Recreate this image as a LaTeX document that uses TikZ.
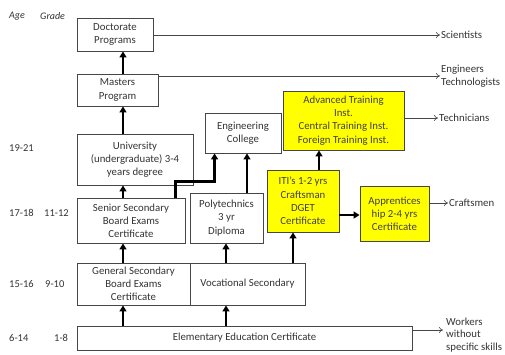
\documentclass[tikz,border=0pt]{standalone}
\usepackage{fontspec}
\setmainfont{Carlito}
\usetikzlibrary{arrows.meta}

\definecolor{edgegray}{RGB}{70,70,70}
\definecolor{boxyellow}{RGB}{255,255,0}

\tikzset{
  box/.style={draw=edgegray, line width=0.9pt, align=center, inner sep=1pt,
              font=\fontsize{10.8}{13.2}\selectfont, text=black!80},
  yellowbox/.style={box, fill=boxyellow, text=black!75!yellow!60!black},
  upward/.style={line width=2.2pt, -{Triangle[length=6pt,width=7pt]}},
  outflow/.style={draw=edgegray, line width=0.6pt, -{To[length=4pt,width=6pt]}},
  outlabel/.style={anchor=west, inner sep=1pt, align=left,
                   font=\fontsize{10.8}{12.8}\selectfont, text=black!80},
  sidelabel/.style={anchor=west, inner sep=0pt, font=\fontsize{10.5}{12}\selectfont, text=black!80}
}

\begin{document}
\begin{tikzpicture}[x=1pt,y=-1pt]

    \useasboundingbox (0,0) rectangle (505,354);

    % Left Labels
    % -----------
    \node[sidelabel,font=\fontsize{10}{12}\selectfont\itshape] (age) at (9,16) {Age};
    \node[sidelabel,font=\fontsize{10}{12}\selectfont\itshape] (grade) at (40,16) {Grade};
    \node[sidelabel] (a1) at (9,148) {19-21};
    \node[sidelabel] (a2) at (9,213) {17-18};
    \node[sidelabel] (g2) at (44,213) {11-12};
    \node[sidelabel] (a3) at (9,284) {15-16};
    \node[sidelabel] (g3) at (45,284) {9-10};
    \node[sidelabel] (a4) at (9,338) {6-14};
    \node[sidelabel] (g4) at (54,338) {1-8};

    % Boxes
    % -----
    \node[box,minimum width=76pt,minimum height=33pt] (doct) at (115,34.5) {Doctorate\\Programs};
    \node[box,minimum width=81pt,minimum height=32pt] (mast) at (117.5,90) {Masters\\Program};
    \node[box,minimum width=116pt,minimum height=51pt] (univ) at (135,159.5) {University\\(undergraduate) 3-4\\years degree};
    \node[box,minimum width=76pt,minimum height=40pt] (engg) at (243,133) {Engineering\\College};
    \node[box,minimum width=108pt,minimum height=45pt] (senior) at (131,220.5) {Senior Secondary\\Board Exams\\Certificate};
    \node[box,minimum width=73pt,minimum height=50pt] (poly) at (226.5,218) {Polytechnics\\3 yr\\Diploma};
    \node[box,minimum width=113pt,minimum height=42pt] (gensec) at (133.5,284) {General Secondary\\Board Exams\\Certificate};
    \node[box,minimum width=115pt,minimum height=42pt] (voc) at (247.5,284) {Vocational Secondary};
    \node[box,minimum width=335pt,minimum height=24pt] (elem) at (244.5,338) {Elementary Education Certificate};

    \node[yellowbox,minimum width=72pt,minimum height=62pt] (iti) at (303,201) {ITI’s 1-2 yrs\\Craftsman\\DGET\\Certificate};
    \node[yellowbox,minimum width=121pt,minimum height=59pt] (adv) at (343.5,120.5) {Advanced Training\\Inst.\\Central Training Inst.\\Foreign Training Inst.};
    \node[yellowbox,minimum width=69pt,minimum height=55pt] (appr) at (394.5,213.5) {Apprentices\\hip 2-4 yrs\\Certificate};

    % Outcomes
    % --------
    \node[outlabel] (sci) at (440,35) {Scientists};
    \node[outlabel] (engr) at (440,76) {Engineers\\Technologists};
    \node[outlabel] (tech) at (438,118) {Technicians};
    \node[outlabel] (craft) at (448,203) {Craftsmen};
    \node[outlabel] (workers) at (445,335) {Workers\\without\\specific skills};
    \coordinate (wk) at (443,330);

    % Columns
    % -------
    \coordinate (c1) at (123,0);
    \coordinate (c2) at (226,0);
    \coordinate (c3) at (247,0);
    \coordinate (c4) at (293,0);
    \coordinate (c5) at (319,0);

    % Draw Paths
    % ----------
    \draw[upward] (c1 |- mast.north) -- (c1 |- doct.south);
    \draw[upward] (c1 |- univ.north) -- (c1 |- mast.south);
    \draw[upward] (c1 |- senior.north) -- (c1 |- univ.south);
    \draw[upward] (c1 |- gensec.north) -- (c1 |- senior.south);
    \draw[upward] (c1 |- elem.north) -- (c1 |- gensec.south);
    \draw[upward] (c2 |- elem.north) -- (c2 |- voc.south);
    \draw[upward] (c2 |- voc.north) -- (c2 |- poly.south);
    \draw[upward] (c3 |- poly.north) -- (c3 |- engg.south);
    \draw[upward] (c4 |- voc.north) -- (c4 |- iti.south);
    \draw[upward] (c5 |- iti.north) -- (c5 |- adv.south);
    \draw[upward] ([xshift=-10pt]senior.north east) -- ++(0,-16) -| ([xshift=10pt]engg.south west);
    \draw[upward] (iti.east |- 0,215) -- (appr.west |- 0,215);

    \draw[outflow] (doct.east |- sci.west) -- (sci.west);
    \draw[outflow] (mast.east |- engr.west) -- (engr.west);
    \draw[outflow] (adv.east |- tech.west) -- (tech.west);
    \draw[outflow] (appr.east |- craft.west) -- (craft.west);
    \draw[outflow] (elem.east |- wk) -- (wk);

\end{tikzpicture}
\end{document}
